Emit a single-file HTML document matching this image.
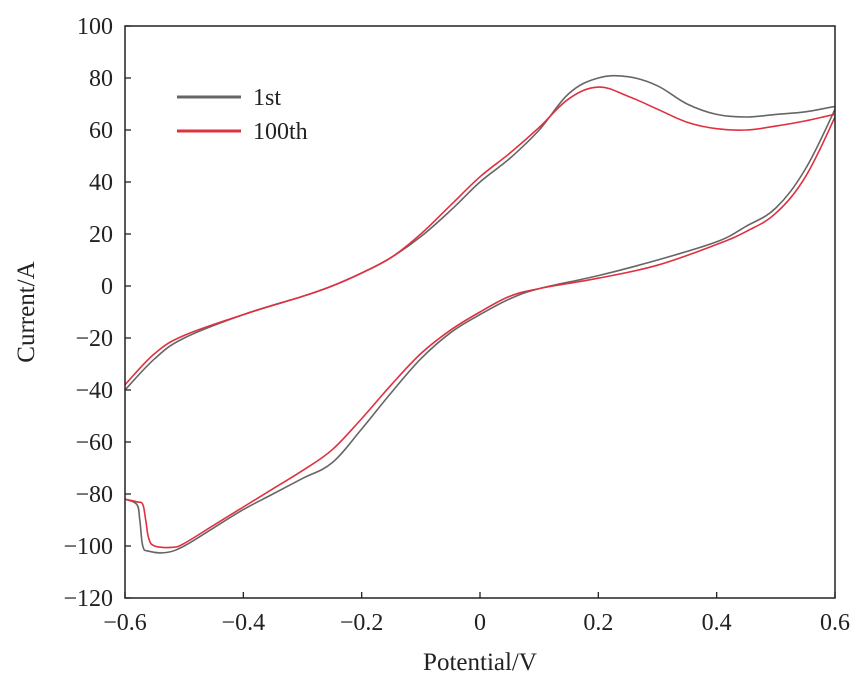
<!DOCTYPE html>
<html><head><meta charset="utf-8"><style>
body{margin:0;background:#fff}
svg text{font-family:"Liberation Serif",serif;fill:#222}
</style></head><body>
<svg id="c" width="868" height="689" viewBox="0 0 868 689"><defs><clipPath id="pc"><rect x="125" y="26" width="710" height="572"/></clipPath></defs></svg>
<script>
const xTicks=[-0.6,-0.4,-0.2,0,0.2,0.4,0.6];
const xTickLabels=["\u22120.6","\u22120.4","\u22120.2","0","0.2","0.4","0.6"];
const yTicks=[-120,-100,-80,-60,-40,-20,0,20,40,60,80,100];
const yTickLabels=["\u2212120","\u2212100","\u221280","\u221260","\u221240","\u221220","0","20","40","60","80","100"];
const seriesNames=["1st","100th"];
const s1V=[-0.6,-0.55,-0.5,-0.4,-0.3,-0.25,-0.2,-0.15,-0.1,-0.05,0,0.05,0.1,0.15,0.2,0.25,0.3,0.35,0.4,0.45,0.5,0.55,0.6,
0.6,0.55,0.5,0.45,0.4,0.3,0.2,0.1,0.05,0,-0.05,-0.1,-0.15,-0.2,-0.25,-0.3,-0.35,-0.4,-0.45,-0.5,-0.53,-0.56,-0.57,-0.575,-0.58,-0.6];
const s1I=[-40,-28,-20,-11,-4,0,5,11,19,29,40,49,60,74,80,80.5,77,70,66,65,66,67,69,
68,45,30,23,17,10,4,-1,-5,-11,-18,-28,-41,-55,-68,-74,-80,-86,-93,-100,-102.5,-102,-100,-90,-84,-82];
const s2V=[-0.6,-0.55,-0.5,-0.4,-0.3,-0.25,-0.2,-0.15,-0.1,-0.05,0,0.05,0.1,0.15,0.2,0.25,0.3,0.35,0.4,0.45,0.5,0.55,0.6,
0.6,0.55,0.5,0.45,0.4,0.3,0.2,0.1,0.05,0,-0.05,-0.1,-0.15,-0.2,-0.25,-0.3,-0.35,-0.4,-0.45,-0.5,-0.52,-0.55,-0.56,-0.565,-0.57,-0.58,-0.6];
const s2I=[-38,-26,-19,-11,-4,0,5,11,20,31,42,51,61,72,76.5,73,68,63,60.5,60,61.5,63.5,66,
65,42,28,21,16,8,3,-1,-4,-10,-17,-26,-38,-51,-63,-71,-78,-85,-92,-99,-100.5,-100,-97,-90,-84,-83,-82];
const L=125,R=835,T=26,B=598;
const xs=v=>L+(v+0.6)/1.2*(R-L);
const ys=i=>T+(100-i)/220*(B-T);
const svg=document.getElementById('c');const NS="http://www.w3.org/2000/svg";
function mk(t,a){const e=document.createElementNS(NS,t);for(const k in a)e.setAttribute(k,a[k]);svg.appendChild(e);return e;}
function smooth(P){
 let d='M'+P[0][0].toFixed(1)+','+P[0][1].toFixed(1);
 for(let i=0;i<P.length-1;i++){
  const p0=P[i-1]||P[i],p1=P[i],p2=P[i+1],p3=P[i+2]||P[i+1];
  const t=0.18;
  const c1=[p1[0]+(p2[0]-p0[0])*t,p1[1]+(p2[1]-p0[1])*t];
  const c2=[p2[0]-(p3[0]-p1[0])*t,p2[1]-(p3[1]-p1[1])*t];
  d+='C'+c1.map(n=>n.toFixed(1))+' '+c2.map(n=>n.toFixed(1))+' '+p2[0].toFixed(1)+','+p2[1].toFixed(1);
 }
 return d;
}
xTicks.forEach((v,k)=>{
 const t=mk('line',{x1:xs(v),x2:xs(v),y1:B,y2:B-6,stroke:'#222','stroke-width':1.3});
 
 
 const l=mk('text',{x:xs(v),y:B+32,'text-anchor':'middle','font-size':24});
 l.textContent=xTickLabels[k];
 
 
});
yTicks.forEach((v,k)=>{
 const t=mk('line',{x1:L,x2:L+6,y1:ys(v),y2:ys(v),stroke:'#222','stroke-width':1.3});
 
 
 const l=mk('text',{x:L-12,y:ys(v)+8,'text-anchor':'end','font-size':24});
 l.textContent=yTickLabels[k];
 
 
});
const cols=["#666","#e03040"];
[[s1V,s1I],[s2V,s2I]].forEach((s,k)=>{
 const pts=s[0].map((v,j)=>[xs(v),ys(s[1][j])]);
 const p=mk('path',{d:smooth(pts),fill:'none',stroke:cols[k],'stroke-width':1.6,'stroke-linejoin':'round','clip-path':'url(#pc)'});
 
 
 const ll=mk('line',{x1:177,x2:241,y1:97+34*k,y2:97+34*k,stroke:cols[k],'stroke-width':3});
 
 
 const lt=mk('text',{x:253,y:105+34*k,'font-size':24});
 lt.textContent=seriesNames[k];
 
 
});
const f=mk('rect',{x:L,y:T,width:R-L,height:B-T,fill:'none',stroke:'#222','stroke-width':1.5});


const xt=mk('text',{x:(L+R)/2,y:670,'text-anchor':'middle','font-size':25});
xt.textContent='Potential/V';


const yt=mk('text',{x:0,y:0,'text-anchor':'middle','font-size':25,transform:'translate(34,'+((T+B)/2)+') rotate(-90)'});
yt.textContent='Current/A';


</script>
</body></html>
